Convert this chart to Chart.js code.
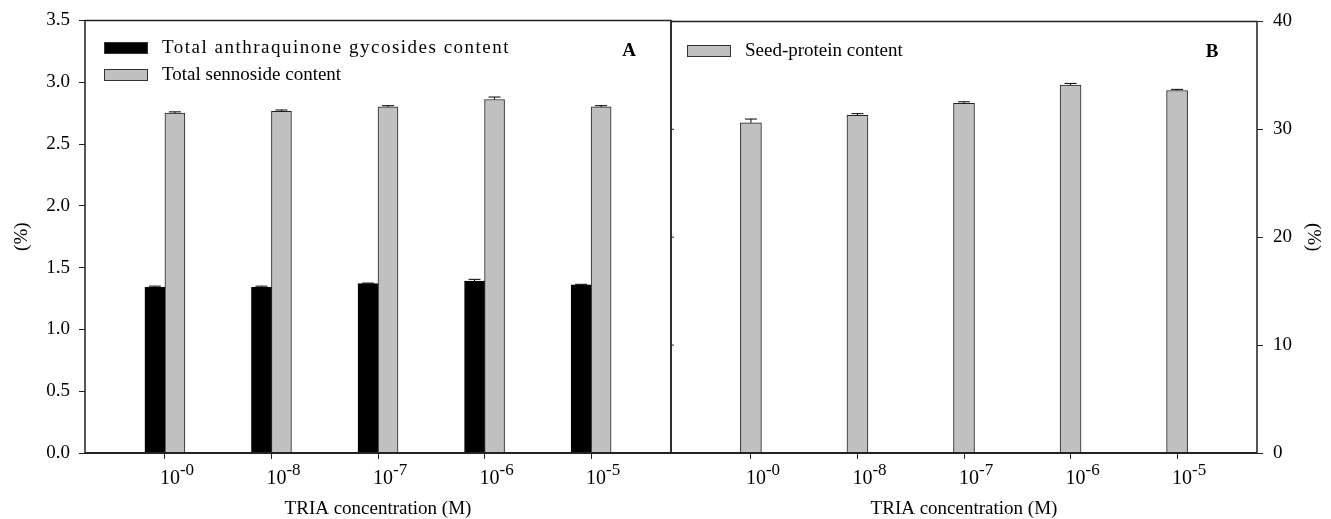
<!DOCTYPE html>
<html>
<head>
<meta charset="utf-8">
<script src="https://cdn.jsdelivr.net/npm/chart.js@4"></script>
<style>
body { margin: 0; background: #fff; }
#wrap { position: relative; width: 1331px; height: 519px; overflow: hidden; }
canvas { position: absolute; top: 0; }
#chartA { left: 0; }
#chartB { left: 661px; }
</style>
</head>
<body>
<div id="wrap">
<canvas id="chartA" width="672" height="519"></canvas>
<canvas id="chartB" width="670" height="519"></canvas>
</div>
<script>
// exponents of the TRIA concentrations (10^x M)
const concentrations = ['-0', '-8', '-7', '-6', '-5'];

// panel A
const anthraquinone = [1.34, 1.34, 1.37, 1.39, 1.36];
const anthraquinoneErr = [0.01, 0.01, 0.005, 0.015, 0.005];
const sennoside = [2.75, 2.765, 2.80, 2.86, 2.80];
const sennosideErr = [0.01, 0.01, 0.01, 0.02, 0.01];
const ticksA = [0, 0.5, 1.0, 1.5, 2.0, 2.5, 3.0, 3.5];

// panel B
const seedProtein = [30.6, 31.3, 32.4, 34.1, 33.6];
const seedProteinErr = [0.35, 0.15, 0.15, 0.15, 0.1];
const ticksB = [0, 10, 20, 30, 40];

const serif = '"Liberation Serif", "Times New Roman", serif';
const lineColor = '#222';

function points(values) {
    return values.map((v, i) => ({ x: i, y: v }));
}

// frame around the plot area, bottom axis a bit heavier
const frame = {
    id: 'frame',
    afterDraw(chart, args, opts) {
        const { ctx, chartArea: a } = chart;
        ctx.save();
        ctx.strokeStyle = lineColor;
        ctx.lineWidth = 1.5;
        ctx.beginPath();
        ctx.moveTo(a.left, a.bottom);
        ctx.lineTo(a.left, a.top);
        ctx.lineTo(a.right, a.top);
        ctx.lineTo(a.right, a.bottom);
        ctx.stroke();
        ctx.lineWidth = 2;
        ctx.beginPath();
        ctx.moveTo(a.left, a.bottom);
        ctx.lineTo(a.right, a.bottom);
        ctx.stroke();
        // small inward ticks on the left edge (panel B)
        if (opts.innerTicks) {
            const y = chart.scales.y;
            ctx.lineWidth = 1;
            y.ticks.forEach(t => {
                const py = y.getPixelForValue(t.value);
                ctx.beginPath();
                ctx.moveTo(a.left, py);
                ctx.lineTo(a.left + 3, py);
                ctx.stroke();
            });
        }
        ctx.restore();
    }
};

// upper error bars with caps
const errorBars = {
    id: 'errorBars',
    afterDatasetsDraw(chart) {
        const { ctx } = chart;
        const y = chart.scales.y;
        chart.data.datasets.forEach((ds, i) => {
            const meta = chart.getDatasetMeta(i);
            meta.data.forEach((bar, j) => {
                const top = y.getPixelForValue(ds.data[j].y + ds.errors[j]);
                ctx.save();
                ctx.strokeStyle = '#000';
                ctx.lineWidth = 1;
                ctx.beginPath();
                ctx.moveTo(bar.x, bar.y);
                ctx.lineTo(bar.x, top);
                ctx.moveTo(bar.x - 6, top);
                ctx.lineTo(bar.x + 6, top);
                ctx.stroke();
                ctx.restore();
            });
        });
    }
};

// 10 with superscript exponent under each tick
const expLabels = {
    id: 'expLabels',
    afterDraw(chart) {
        const { ctx } = chart;
        const x = chart.scales.x;
        ctx.save();
        ctx.fillStyle = '#000';
        ctx.textBaseline = 'alphabetic';
        ctx.textAlign = 'left';
        concentrations.forEach((c, i) => {
            const px = x.getPixelForValue(i) - 5;
            ctx.font = '20px ' + serif;
            ctx.fillText('10', px, 484);
            const w = ctx.measureText('10').width;
            ctx.font = '17px ' + serif;
            ctx.fillText(c, px + w, 475);
        });
        ctx.restore();
    }
};

// legend boxes inside the plot and the panel letter
const insideLegend = {
    id: 'insideLegend',
    afterDraw(chart, args, opts) {
        const { ctx } = chart;
        ctx.save();
        chart.data.datasets.forEach((ds, i) => {
            const top = opts.y + i * opts.rowGap;
            ctx.fillStyle = ds.backgroundColor;
            ctx.fillRect(opts.x, top, 44, 12);
            ctx.strokeStyle = '#333';
            ctx.lineWidth = 1;
            ctx.strokeRect(opts.x + 0.5, top + 0.5, 43, 11);
            ctx.fillStyle = '#000';
            ctx.font = '19px ' + serif;
            ctx.textBaseline = 'middle';
            ctx.textAlign = 'left';
            ctx.letterSpacing = (opts.spacing && opts.spacing[i]) || '0px';
            ctx.fillText(ds.label, opts.x + 58, top + 6);
            ctx.letterSpacing = '0px';
        });
        ctx.font = 'bold 19px ' + serif;
        ctx.textAlign = 'center';
        ctx.textBaseline = 'middle';
        ctx.fillText(opts.panel, opts.panelX, opts.panelY);
        ctx.restore();
    }
};

function xScale() {
    return {
        type: 'linear',
        min: -0.75,
        max: 4.75,
        offset: false,
        afterBuildTicks: s => { s.ticks = concentrations.map((c, i) => ({ value: i })); },
        ticks: { display: false },
        grid: { offset: false, drawOnChartArea: false, drawTicks: true, tickLength: 6, color: lineColor },
        border: { display: false },
        title: {
            display: true,
            text: 'TRIA concentration (M)',
            color: '#000',
            font: { family: serif, size: 19, lineHeight: 1 },
            padding: { top: 0, bottom: 0 }
        },
        afterFit: s => { s.height = 66; }
    };
}

function yScale(ticks, position, width, titlePad, fmt) {
    return {
        position: position,
        min: ticks[0],
        max: ticks[ticks.length - 1],
        afterBuildTicks: s => { s.ticks = ticks.map(v => ({ value: v })); },
        ticks: {
            color: '#000',
            font: { family: serif, size: 19 },
            padding: position === 'left' ? 9 : 10,
            callback: fmt
        },
        grid: { drawOnChartArea: false, drawTicks: true, tickLength: 6, color: lineColor },
        border: { display: false },
        title: {
            display: true,
            text: '(%)',
            color: '#000',
            font: { family: serif, size: 19, lineHeight: 1 },
            padding: { top: titlePad, bottom: 0 }
        },
        afterFit: s => { s.width = width; }
    };
}

new Chart(document.getElementById('chartA'), {
    type: 'bar',
    data: {
        datasets: [{
            label: 'Total anthraquinone gycosides content',
            data: points(anthraquinone),
            errors: anthraquinoneErr,
            backgroundColor: '#000000',
            borderColor: '#000000',
            borderWidth: 1
        }, {
            label: 'Total sennoside content',
            data: points(sennoside),
            errors: sennosideErr,
            backgroundColor: '#c0c0c0',
            borderColor: '#222222',
            borderWidth: 1
        }]
    },
    options: {
        responsive: false,
        animation: false,
        barThickness: 20,
        layout: { padding: { top: 19, right: 1, left: 0, bottom: 0 } },
        plugins: {
            legend: { display: false },
            tooltip: { enabled: false },
            insideLegend: { x: 104, y: 42, rowGap: 27, panel: 'A', panelX: 629, panelY: 51, spacing: ['1.5px', '0px'] },
            frame: { innerTicks: false }
        },
        scales: {
            x: xScale(),
            y: yScale(ticksA, 'left', 85, 12.5, v => v.toFixed(1))
        }
    },
    plugins: [frame, errorBars, expLabels, insideLegend]
});

new Chart(document.getElementById('chartB'), {
    type: 'bar',
    data: {
        datasets: [{
            label: 'Seed-protein content',
            data: points(seedProtein),
            errors: seedProteinErr,
            backgroundColor: '#c0c0c0',
            borderColor: '#222222',
            borderWidth: 1
        }]
    },
    options: {
        responsive: false,
        animation: false,
        barThickness: 21,
        layout: { padding: { top: 19, right: 0, left: 10, bottom: 0 } },
        plugins: {
            legend: { display: false },
            tooltip: { enabled: false },
            insideLegend: { x: 687 - 661, y: 45, rowGap: 27, panel: 'B', panelX: 1212 - 661, panelY: 52 },
            frame: { innerTicks: true }
        },
        scales: {
            x: xScale(),
            y: yScale(ticksB, 'right', 74, 8.5, v => String(v))
        }
    },
    plugins: [frame, errorBars, expLabels, insideLegend]
});
</script>
</body>
</html>
